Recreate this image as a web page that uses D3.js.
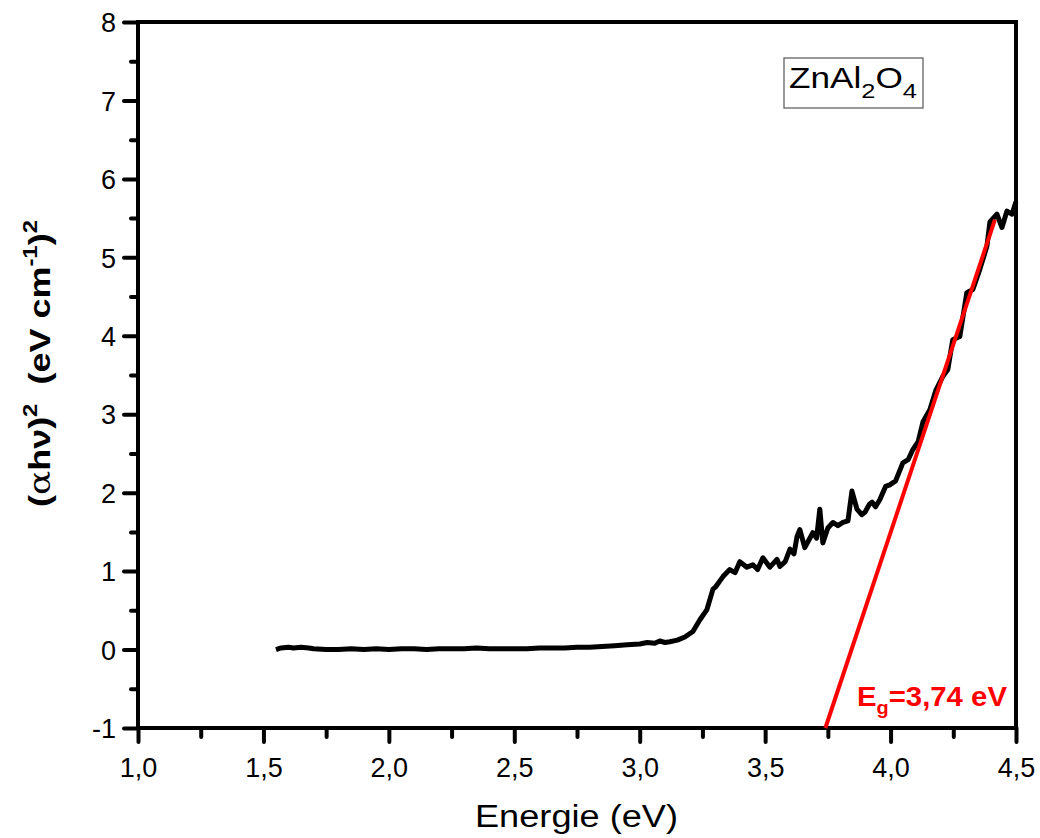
<!DOCTYPE html>
<html>
<head>
<meta charset="utf-8">
<script src="https://cdn.jsdelivr.net/npm/d3@7"></script>
<style>
  html, body { margin: 0; background: #fff; overflow: hidden; }
  svg { display: block; }
  svg, svg text { font-family: "Liberation Sans", Arial, sans-serif; }
</style>
</head>
<body>
<div id="svg-container"></div>
<script>
// energie (eV)
const energie = [1.55, 1.57, 1.60, 1.62, 1.65, 1.68, 1.70, 1.75, 1.80, 1.85, 1.90, 1.95, 2.00, 2.05, 2.10, 2.15, 2.20, 2.25, 2.30, 2.35, 2.40, 2.45, 2.50, 2.55, 2.60, 2.65, 2.70, 2.75, 2.80, 2.85, 2.90, 2.95, 3.00, 3.03, 3.06, 3.08, 3.10, 3.12, 3.15, 3.18,
  3.212, 3.240, 3.268, 3.292, 3.303, 3.332, 3.359, 3.380, 3.399, 3.427, 3.451, 3.470, 3.491, 3.519, 3.547, 3.559, 3.580, 3.599, 3.615, 3.627, 3.638, 3.658, 3.675, 3.690, 3.705, 3.718, 3.730, 3.750, 3.770, 3.790, 3.810, 3.830, 3.846, 3.866, 3.885, 3.898, 3.915, 3.926, 3.940, 3.957,
  3.980, 3.997, 4.020, 4.049, 4.070, 4.089, 4.110, 4.129, 4.157, 4.180, 4.208, 4.228, 4.248, 4.276, 4.304, 4.328, 4.356, 4.384, 4.396, 4.424, 4.444, 4.464, 4.484, 4.500]
// (alpha h nu)^2
const absorptie = [0.00, 0.02, 0.03, 0.02, 0.03, 0.02, 0.01, 0.00, 0.00, 0.01, 0.00, 0.01, 0.00, 0.01, 0.01, 0.00, 0.01, 0.01, 0.01, 0.02, 0.01, 0.01, 0.01, 0.01, 0.02, 0.02, 0.02, 0.03, 0.03, 0.04, 0.05, 0.06, 0.07, 0.09, 0.08, 0.11, 0.09, 0.10, 0.12, 0.16,
  0.23, 0.38, 0.51, 0.77, 0.80, 0.93, 1.02, 0.98, 1.12, 1.05, 1.08, 1.02, 1.17, 1.05, 1.15, 1.06, 1.12, 1.28, 1.22, 1.44, 1.53, 1.30, 1.40, 1.49, 1.42, 1.79, 1.36, 1.55, 1.62, 1.58, 1.62, 1.64, 2.02, 1.79, 1.72, 1.75, 1.85, 1.88, 1.82, 1.91,
  2.08, 2.10, 2.15, 2.38, 2.42, 2.55, 2.65, 2.90, 3.06, 3.30, 3.48, 3.57, 3.95, 3.99, 4.55, 4.59, 4.85, 5.14, 5.45, 5.55, 5.38, 5.59, 5.55, 5.71]

// lineaire fit (band gap)
const fitX = [3.74, 4.416]
const fitY = [-1, 5.48]

const xTicks = [1.0, 1.5, 2.0, 2.5, 3.0, 3.5, 4.0, 4.5]
const yTicks = [-1, 0, 1, 2, 3, 4, 5, 6, 7, 8]

const width = 1040
const height = 838
const margin = { top: 22, right: 24, bottom: 110, left: 138 }
const innerWidth = width - margin.left - margin.right
const innerHeight = height - margin.top - margin.bottom

const svg = d3.select('#svg-container').append('svg')
  .attr('width', width).attr('height', height)

const g = svg.append('g').attr('transform', `translate(${margin.left}, ${margin.top})`)

const xScale = d3.scaleLinear().domain([1, 4.5]).range([0, innerWidth])
const yScale = d3.scaleLinear().domain([-1, 8]).range([innerHeight, 0])

const fmt = d => d3.format('.1f')(d).replace('.', ',')

//minor ticks
const xMinor = d3.range(1.25, 4.5, 0.5)
const yMinor = d3.range(-0.5, 8, 1)

const xAxis = g.append('g').attr('transform', `translate(0, ${innerHeight})`)
  .call(d3.axisBottom(xScale).tickValues(xTicks).tickFormat(fmt).tickSize(14).tickPadding(6))
xAxis.append('g').attr('class', 'minor').call(d3.axisBottom(xScale).tickValues(xMinor).tickSize(9))

const yAxis = g.append('g')
  .call(d3.axisLeft(yScale).tickValues(yTicks).tickFormat(d => String(d)).tickSize(14).tickPadding(8))
yAxis.append('g').attr('class', 'minor').call(d3.axisLeft(yScale).tickValues(yMinor).tickSize(7))

g.selectAll('.minor text').remove()
g.selectAll('.domain').remove()
g.selectAll('.tick line').attr('stroke', '#000').attr('stroke-width', 4).attr('stroke-linecap', 'round')
g.selectAll('.tick text').attr('fill', '#000')
  .attr('font-family', '"Liberation Sans", Arial, sans-serif').attr('font-size', 27)
yAxis.selectAll('.tick text').attr('dy', '0.36em')
xAxis.selectAll('.tick text').attr('dy', 0).attr('y', 49)

//frame
g.append('rect').attr('width', innerWidth).attr('height', innerHeight)
  .attr('fill', 'none').attr('stroke', '#000').attr('stroke-width', 4)

//data
const data = energie.map((e, i) => ({ x: e, y: absorptie[i] }))
const line = d3.line().x(d => xScale(d.x)).y(d => yScale(d.y))
g.append('path').datum(data).attr('d', line)
  .attr('fill', 'none').attr('stroke', '#000').attr('stroke-width', 5).attr('stroke-linejoin', 'round')

const fit = fitX.map((e, i) => ({ x: e, y: fitY[i] }))
g.append('path').datum(fit).attr('d', line)
  .attr('fill', 'none').attr('stroke', '#ff0000').attr('stroke-width', 4)

//Eg label
const eg = g.append('text').attr('x', xScale(3.866)).attr('y', yScale(-0.72))
  .attr('fill', '#ff0000').style('font-size', '28px').style('font-weight', 'bold')
  .attr('textLength', 150).attr('lengthAdjust', 'spacingAndGlyphs')
eg.append('tspan').text('E')
eg.append('tspan').text('g').attr('dy', 8).style('font-size', '19px')
eg.append('tspan').text('=3,74 eV').attr('dy', -8)

//label box
g.append('rect').attr('x', 784 - margin.left).attr('y', 58 - margin.top).attr('width', 139).attr('height', 50)
  .attr('fill', '#fff').attr('stroke', '#555').attr('stroke-width', 1.2)
const lbl = g.append('text').attr('x', 789 - margin.left).attr('y', 88 - margin.top)
  .attr('fill', '#000').style('font-size', '29px')
  .attr('textLength', 128).attr('lengthAdjust', 'spacingAndGlyphs')
lbl.append('tspan').text('ZnAl')
lbl.append('tspan').text('2').attr('dy', 10).style('font-size', '21px')
lbl.append('tspan').text('O').attr('dy', -10)
lbl.append('tspan').text('4').attr('dy', 10).style('font-size', '21px')

//axis titles
svg.append('text').attr('x', 475).attr('y', 827)
  .style('font-size', '31px').attr('textLength', 203).attr('lengthAdjust', 'spacingAndGlyphs')
  .text('Energie (eV)')

const yt = svg.append('text').attr('transform', `translate(50, 507) rotate(-90)`)
  .style('font-size', '30px').style('font-weight', 'bold')
  .attr('textLength', 287).attr('lengthAdjust', 'spacingAndGlyphs')
yt.append('tspan').text('(')
yt.append('tspan').text('α').style('font-weight', 'normal').style('font-family', '"DejaVu Serif", serif')
yt.append('tspan').text('hν)')
yt.append('tspan').text('2').attr('dy', -13).style('font-size', '20px')
yt.append('tspan').text('(eV cm').attr('dy', 13).attr('dx', 16)
yt.append('tspan').text('-1').attr('dy', -13).style('font-size', '20px')
yt.append('tspan').text(')').attr('dy', 13)
yt.append('tspan').text('2').attr('dy', -13).style('font-size', '20px')
</script>
</body>
</html>
